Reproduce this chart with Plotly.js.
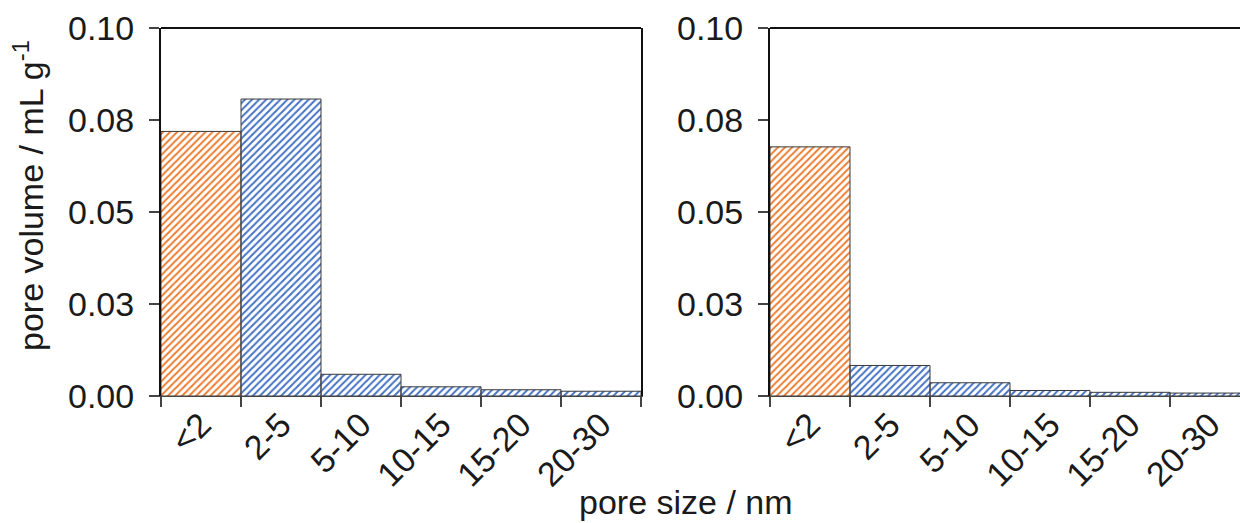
<!DOCTYPE html>
<html>
<head>
<meta charset="utf-8">
<script src="https://cdn.plot.ly/plotly-3.0.1.min.js"></script>
<style>html,body{margin:0;padding:0;background:#fff;}#chart{width:1240px;height:523px;}</style>
</head>
<body>
<div id="chart"></div>
<script>
const categories = ["<2", "2-5", "5-10", "10-15", "15-20", "20-30"];
const leftValues = [0.0719, 0.0807, 0.0059, 0.0025, 0.0017, 0.0013];
const rightValues = [0.0677, 0.0083, 0.0036, 0.0015, 0.0010, 0.0008];
const yTickVals = [0, 0.025, 0.05, 0.075, 0.1];
const yTickText = ["0.00", "0.03", "0.05", "0.08", "0.10"];
const barColors = ["#ED7D31", "#4472C4", "#4472C4", "#4472C4", "#4472C4", "#4472C4"];

const W = 1240, H = 523;
const FONT = "Liberation Sans, Arial, sans-serif";
const FS = 34;

function barTrace(vals, xa, ya) {
  return {
    type: "bar", x: categories, y: vals, xaxis: xa, yaxis: ya,
    marker: {
      color: barColors,
      line: {color: "#3a3a3a", width: 1},
      pattern: {shape: "/", size: 5, solidity: 0.4, fillmode: "replace", bgcolor: "#ffffff"}
    },
    hoverinfo: "x+y", showlegend: false
  };
}

const xCommon = {
  type: "category", tickson: "boundaries", ticks: "outside", ticklen: 10, tickwidth: 1.2,
  tickcolor: "#444", showline: true, linecolor: "#444", linewidth: 1.2,
  tickangle: -45, tickfont: {family: FONT, size: FS, color: "#1a1a1a"},
  ticklabelstandoff: -6,
  showgrid: false, zeroline: false, automargin: false, fixedrange: true
};
const yCommon = {
  range: [0, 0.1], tickvals: yTickVals, ticktext: yTickText, ticks: "outside",
  ticklen: 10, tickwidth: 1.2, tickcolor: "#444", showline: true, linecolor: "#111",
  linewidth: 2, tickfont: {family: FONT, size: FS, color: "#1a1a1a"},
  ticklabelstandoff: 8, showgrid: false, zeroline: false, automargin: false, fixedrange: true
};

const layout = {
  width: W, height: H,
  margin: {l: 0, r: 0, t: 28, b: 127},
  paper_bgcolor: "#fff", plot_bgcolor: "#fff",
  bargap: 0,
  font: {family: FONT, size: FS, color: "#1a1a1a"},
  xaxis: Object.assign({}, xCommon, {domain: [161 / W, 641 / W], anchor: "y", range: [-0.5, 5.5]}),
  yaxis: Object.assign({}, yCommon, {domain: [0, 1], anchor: "x", mirror: true}),
  xaxis2: Object.assign({}, xCommon, {domain: [770 / W, 1], anchor: "y2", range: [-0.5, 5.375]}),
  yaxis2: Object.assign({}, yCommon, {domain: [0, 1], anchor: "x2"}),
  shapes: [
    {type: "line", xref: "x domain", yref: "y domain", x0: 0, x1: 1, y0: 1, y1: 1, line: {color: "#111", width: 2}},
    {type: "line", xref: "x2 domain", yref: "y2 domain", x0: 0, x1: 1, y0: 1, y1: 1, line: {color: "#111", width: 2}}
  ],
  annotations: [
    {text: "pore volume / mL g<sup>-1</sup>", xref: "paper", yref: "paper", x: 28 / W, y: 1 - (196 - 28) / (H - 28 - 127),
     xanchor: "center", yanchor: "middle", textangle: -90, showarrow: false, font: {family: FONT, size: FS, color: "#1a1a1a"}},
    {text: "pore size / nm", xref: "paper", yref: "paper", x: 686 / W, y: -(502 - 396) / (H - 28 - 127),
     xanchor: "center", yanchor: "middle", showarrow: false, font: {family: FONT, size: FS, color: "#1a1a1a"}}
  ]
};

Plotly.newPlot("chart", [barTrace(leftValues, "x", "y"), barTrace(rightValues, "x2", "y2")], layout, {staticPlot: true, displayModeBar: false});
</script>
</body>
</html>
